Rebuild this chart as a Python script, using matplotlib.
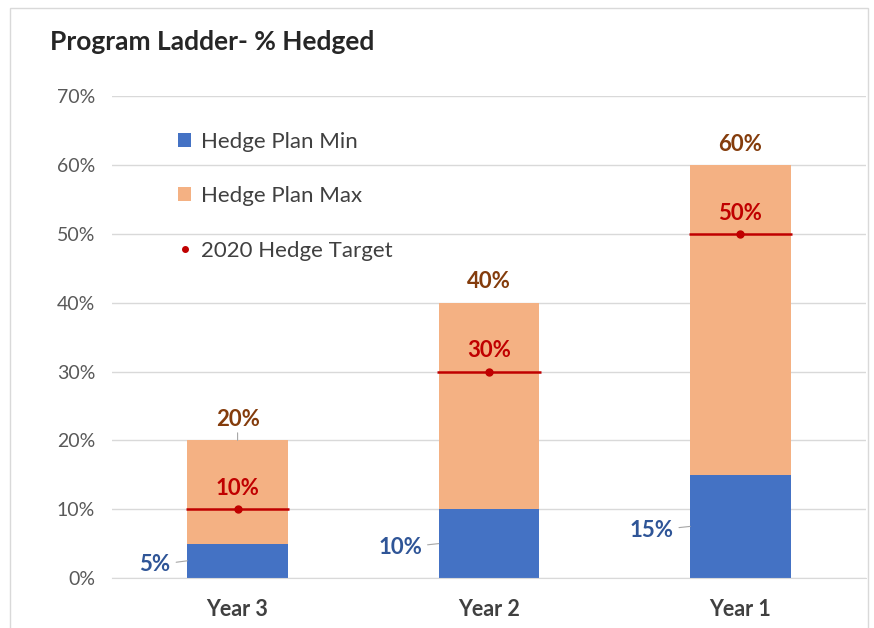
"""Program Ladder - % Hedged: stacked min/max bars with target markers."""

import matplotlib

matplotlib.use("Agg")
import matplotlib.pyplot as plt
from matplotlib.lines import Line2D
from matplotlib.patches import Patch, Rectangle


YEARS = ["Year 3", "Year 2", "Year 1"]
PLAN_MIN = [5, 10, 15]
PLAN_MAX = [20, 40, 60]
TARGET = [10, 30, 50]

BLUE = "#4472C4"
ORANGE = "#F4B183"
RED = "#C00000"
BROWN = "#843C0C"
LABEL_BLUE = "#2F5597"
GRID = "#D9D9D9"
TEXT = "#595959"

plt.rcParams["font.family"] = ["Lato", "DejaVu Sans"]

fig = plt.figure(figsize=(8.74, 6.28), dpi=100)
ax = fig.add_axes([0.128, 0.0796, 0.863, 0.767])

x = list(range(len(YEARS)))
width = 0.40
upper = [mx - mn for mn, mx in zip(PLAN_MIN, PLAN_MAX)]

ax.bar(x, PLAN_MIN, width, color=BLUE, zorder=2)
ax.bar(x, upper, width, bottom=PLAN_MIN, color=ORANGE, zorder=2)
ax.hlines(TARGET, [i - width / 2 - 0.005 for i in x], [i + width / 2 + 0.005 for i in x],
          colors=RED, linewidth=1.8, zorder=3)
ax.plot(x, TARGET, "o", color=RED, markersize=5, zorder=4)

for i, (mn, mx, tg) in enumerate(zip(PLAN_MIN, PLAN_MAX, TARGET)):
    # min label, to the left of the bar with a leader line
    ax.annotate(f"{mn}%", xy=(i - width / 2, mn / 2), xytext=(-12, -3),
                textcoords="offset points", ha="right", va="center",
                fontsize=16, fontweight="bold", color=LABEL_BLUE,
                arrowprops=dict(arrowstyle="-", color="#A6A6A6", lw=0.8,
                                shrinkA=2, shrinkB=0))
    # max label above the bar
    ax.annotate(f"{mx}%", xy=(i, mx), xytext=(0, 15),
                textcoords="offset points", ha="center", va="center",
                fontsize=16, fontweight="bold", color=BROWN,
                arrowprops=dict(arrowstyle="-", color="#A6A6A6", lw=0.8,
                                shrinkA=8, shrinkB=0) if i == 0 else None)
    # target label
    ax.annotate(f"{tg}%", xy=(i, tg), xytext=(0, 15),
                textcoords="offset points", ha="center", va="center",
                fontsize=16, fontweight="bold", color=RED)

ax.set_xlim(-0.5, 2.5)
ax.set_ylim(0, 70)
ax.set_yticks(range(0, 71, 10))
ax.set_yticklabels([f"{v}%" for v in range(0, 71, 10)], fontsize=14, color=TEXT)
ax.set_xticks(x)
ax.set_xticklabels(YEARS, fontsize=15.5, fontweight="bold", color="#404040")
ax.tick_params(axis="both", length=0)
ax.tick_params(axis="y", pad=12)
ax.tick_params(axis="x", pad=15)
ax.grid(axis="y", color=GRID, linewidth=1, zorder=0)
for side in ("top", "right", "left"):
    ax.spines[side].set_visible(False)
ax.spines["bottom"].set_color(GRID)

handles = [
    Patch(facecolor=BLUE, edgecolor="none"),
    Patch(facecolor=ORANGE, edgecolor="none"),
    Line2D([], [], linestyle="none", marker="o", color=RED, markersize=4),
]
ax.legend(handles, ["Hedge Plan Min", "Hedge Plan Max", "2020 Hedge Target"],
          loc="upper left", bbox_to_anchor=(0.061, 0.968), frameon=False,
          fontsize=16, labelspacing=1.55, handlelength=0.6, handleheight=0.6,
          handletextpad=0.45, labelcolor="#404040")

fig.text(0.057, 0.933, "Program Ladder- % Hedged", fontsize=19,
         fontweight="bold", color="#262626", va="center")

fig.patches.append(Rectangle((10 / 874, -0.01), 858 / 874, 1 - 8 / 628 + 0.01,
                             transform=fig.transFigure, fill=False,
                             edgecolor=GRID, linewidth=1))

fig.savefig("out.png", dpi=100)
